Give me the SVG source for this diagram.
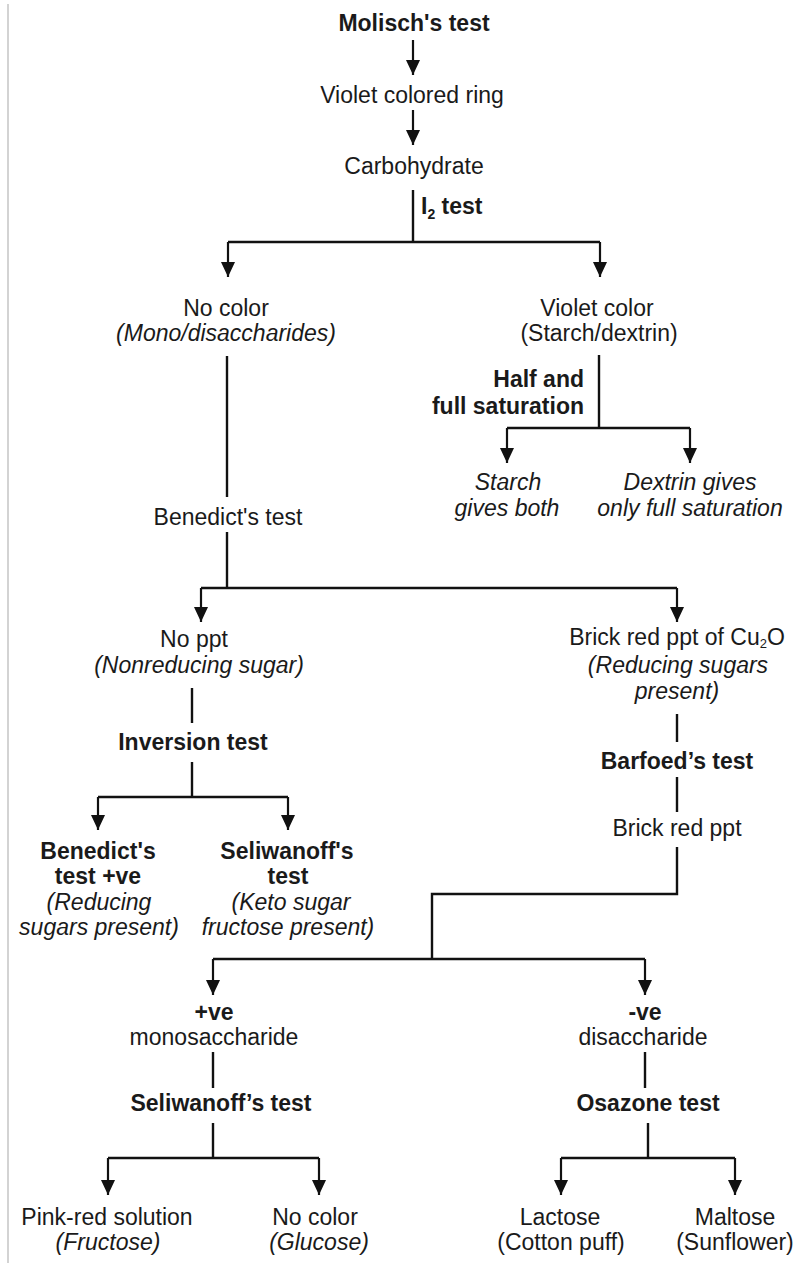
<svg xmlns="http://www.w3.org/2000/svg" width="797" height="1263" viewBox="0 0 797 1263">
<style>
text{font-family:"Liberation Sans",Arial,sans-serif;font-size:23px;fill:#1a1a1a;text-anchor:middle}
.b{font-weight:bold}
.i{font-style:italic}
.e{text-anchor:end}
.s{text-anchor:start}
.ln{stroke:#111;stroke-width:2.4;fill:none}
.ar{stroke:#111;stroke-width:2.2;fill:none;marker-end:url(#ah)}
</style>
<defs>
<marker id="ah" markerWidth="15" markerHeight="14" refX="15" refY="7" orient="auto" markerUnits="userSpaceOnUse">
<path d="M0,0 L15,7 L0,14 z" fill="#111"/>
</marker>
</defs>
<rect width="797" height="1263" fill="#fff"/>
<line x1="8" y1="4" x2="8" y2="1263" stroke="#c4c4c4" stroke-width="1.5"/>

<g id="connectors">
<line class="ar" x1="413" y1="40" x2="413" y2="75"/>
<line class="ar" x1="413" y1="110" x2="413" y2="145"/>
<line class="ln" x1="413" y1="190" x2="413" y2="242"/>
<line class="ln" x1="228" y1="242" x2="600" y2="242"/>
<line class="ar" x1="228" y1="242" x2="228" y2="277"/>
<line class="ar" x1="600" y1="242" x2="600" y2="277"/>

<line class="ln" x1="227" y1="356" x2="227" y2="497"/>
<line class="ln" x1="227" y1="532" x2="227" y2="588"/>
<line class="ln" x1="201" y1="588" x2="677" y2="588"/>
<line class="ar" x1="201" y1="588" x2="201" y2="622"/>
<line class="ar" x1="677" y1="588" x2="677" y2="622"/>

<line class="ln" x1="599" y1="355" x2="599" y2="428"/>
<line class="ln" x1="507" y1="428" x2="690" y2="428"/>
<line class="ar" x1="507" y1="428" x2="507" y2="463"/>
<line class="ar" x1="690" y1="428" x2="690" y2="463"/>

<line class="ln" x1="192" y1="688" x2="192" y2="723"/>
<line class="ln" x1="192" y1="762" x2="192" y2="797"/>
<line class="ln" x1="98" y1="797" x2="288" y2="797"/>
<line class="ar" x1="98" y1="797" x2="98" y2="830"/>
<line class="ar" x1="288" y1="797" x2="288" y2="830"/>

<line class="ln" x1="677" y1="714" x2="677" y2="742"/>
<line class="ln" x1="677" y1="777" x2="677" y2="812"/>
<polyline class="ln" points="677,847 677,894 432,894 432,959"/>
<line class="ln" x1="213" y1="959" x2="645" y2="959"/>
<line class="ar" x1="213" y1="959" x2="213" y2="995"/>
<line class="ar" x1="645" y1="959" x2="645" y2="995"/>

<line class="ln" x1="213" y1="1052" x2="213" y2="1088"/>
<line class="ln" x1="213" y1="1123" x2="213" y2="1158"/>
<line class="ln" x1="108" y1="1158" x2="319" y2="1158"/>
<line class="ar" x1="108" y1="1158" x2="108" y2="1195"/>
<line class="ar" x1="319" y1="1158" x2="319" y2="1195"/>

<line class="ln" x1="645" y1="1052" x2="645" y2="1088"/>
<line class="ln" x1="648" y1="1123" x2="648" y2="1158"/>
<line class="ln" x1="561" y1="1158" x2="735" y2="1158"/>
<line class="ar" x1="561" y1="1158" x2="561" y2="1195"/>
<line class="ar" x1="735" y1="1158" x2="735" y2="1195"/>
</g>

<g id="molisch"><text class="b" x="414" y="31">Molisch's test</text></g>
<g id="violet-ring"><text x="412" y="103">Violet colored ring</text></g>
<g id="carbohydrate"><text x="414" y="174">Carbohydrate</text></g>
<g id="i2-test"><text class="b s" x="421" y="214">I<tspan font-size="14" dy="5">2</tspan><tspan dy="-5"> test</tspan></text></g>

<g id="no-color"><text x="226" y="316">No color</text><text class="i" x="226" y="341">(Mono/disaccharides)</text></g>
<g id="violet-color"><text x="597" y="316">Violet color</text><text x="599" y="341">(Starch/dextrin)</text></g>
<g id="saturation"><text class="b e" x="584" y="387">Half and</text><text class="b e" x="584" y="414">full saturation</text></g>
<g id="starch"><text class="i" x="508" y="490">Starch</text><text class="i" x="507" y="516">gives both</text></g>
<g id="dextrin"><text class="i" x="690" y="490">Dextrin gives</text><text class="i" x="690" y="516">only full saturation</text></g>
<g id="benedict"><text x="228" y="525">Benedict's test</text></g>

<g id="no-ppt"><text x="194" y="647">No ppt</text><text class="i" x="199" y="673">(Nonreducing sugar)</text></g>
<g id="inversion"><text class="b" x="193" y="750">Inversion test</text></g>
<g id="benedict-pos"><text class="b" x="98" y="859">Benedict's</text><text class="b" x="98" y="884">test +ve</text><text class="i" x="99" y="910">(Reducing</text><text class="i" x="99" y="935">sugars present)</text></g>
<g id="seliwanoff-1"><text class="b" x="287" y="859">Seliwanoff's</text><text class="b" x="288" y="884">test</text><text class="i" x="291" y="910">(Keto sugar</text><text class="i" x="288" y="935">fructose present)</text></g>

<g id="brick-cu2o"><text x="677" y="645">Brick red ppt of Cu<tspan font-size="13" dy="3">2</tspan><tspan dy="-3">O</tspan></text><text class="i" x="678" y="673">(Reducing sugars</text><text class="i" x="677" y="699">present)</text></g>
<g id="barfoed"><text class="b" x="677" y="769">Barfoed’s test</text></g>
<g id="brick"><text x="677" y="836">Brick red ppt</text></g>

<g id="mono"><text class="b" x="214" y="1020">+ve</text><text x="214" y="1045">monosaccharide</text></g>
<g id="di"><text class="b" x="645" y="1020">-ve</text><text x="643" y="1045">disaccharide</text></g>
<g id="seliwanoff-2"><text class="b" x="221" y="1111">Seliwanoff’s test</text></g>
<g id="osazone"><text class="b" x="648" y="1111">Osazone test</text></g>
<g id="fructose"><text x="107" y="1225">Pink-red solution</text><text class="i" x="108" y="1250">(Fructose)</text></g>
<g id="glucose"><text x="315" y="1225">No color</text><text class="i" x="319" y="1250">(Glucose)</text></g>
<g id="lactose"><text x="560" y="1225">Lactose</text><text x="561" y="1250">(Cotton puff)</text></g>
<g id="maltose"><text x="735" y="1225">Maltose</text><text x="735" y="1250">(Sunflower)</text></g>
</svg>
